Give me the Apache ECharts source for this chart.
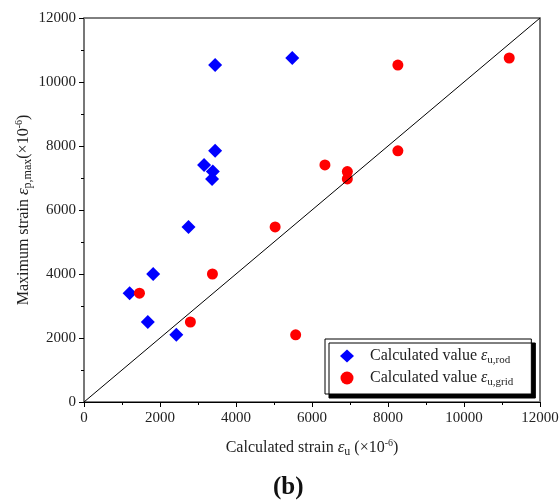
<!DOCTYPE html>
<html lang="en">
<head>
	<meta charset="UTF-8">
	<title>Strain comparison</title>
	<script src="https://cdn.jsdelivr.net/npm/echarts@6/dist/echarts.min.js"></script>
</head>
<body style="margin:0">
	<div id="app" style="width: 560px;height:502px"></div>

	<script>
		// calculated strain (x) vs maximum strain (y), x10^-6
		var rodX = [3450, 5480, 3450, 3160, 3390, 3370, 2750, 1820, 1200, 1680, 2430];
		var rodY = [10530, 10750, 7850, 7410, 7200, 6970, 5470, 4000, 3400, 2500, 2100];
		var gridX = [1460, 2800, 3380, 5030, 6340, 6930, 6930, 8260, 8260, 11190, 5570];
		var gridY = [3400, 2500, 4000, 5470, 7410, 7200, 6970, 7850, 10530, 10750, 2100];
		var refLine = [[0, 0], [12000, 12000]];
		var axisMin = 0, axisMax = 12000, axisStep = 2000;

		function pairs(xs, ys) {
			return xs.map(function (v, i) { return [v, ys[i]]; });
		}

		var font = 'Liberation Serif';
		var rich = {
			t: {fontFamily: font, fontSize: 16, color: '#222', lineHeight: 20, verticalAlign: 'middle'},
			e: {fontFamily: font, fontSize: 17, fontStyle: 'italic', color: '#222', lineHeight: 20, verticalAlign: 'middle'},
			s: {fontFamily: font, fontSize: 12, color: '#222', lineHeight: 12, verticalAlign: 'bottom'},
			sup: {fontFamily: font, fontSize: 10, color: '#222', lineHeight: 10, verticalAlign: 'top'}
		};
		var legendRich = {
			t: {fontFamily: font, fontSize: 16, color: '#222', lineHeight: 20, padding: [0, 0, 0, 11]},
			e: {fontFamily: font, fontSize: 16, fontStyle: 'italic', color: '#222', lineHeight: 20},
			s: {fontFamily: font, fontSize: 11, color: '#222', lineHeight: 11, verticalAlign: 'bottom'}
		};
		var tickFmt = function (v) { return String(v); };

		var myChart = echarts.init(document.getElementById('app'));
		var option = {
			animation: false,
			title: {
				text: '(b)',
				left: 268,
				top: 470,
				textStyle: {fontFamily: font, fontSize: 25, fontWeight: 'bold', color: '#111'}
			},
			grid: {
				left: 84, top: 18, right: 20, bottom: 100,
				outerBoundsMode: 'none',
				containLabel: false,
				show: true, borderColor: '#000', borderWidth: 1
			},
			legend: {
				orient: 'vertical',
				left: 325, top: 339,
				padding: [9, 18, 6, 15],
				itemGap: 4,
				itemWidth: 14, itemHeight: 13,
				backgroundColor: '#fff',
				borderColor: '#000', borderWidth: 1,
				shadowColor: '#000', shadowBlur: 0, shadowOffsetX: 4, shadowOffsetY: 4,
				data: [
					{name: 'rod', icon: 'diamond'},
					{name: 'grid', icon: 'circle'}
				],
				formatter: function (name) {
					return '{t|Calculated value }{e|ε}{s|u,' + name + '}';
				},
				textStyle: {rich: legendRich}
			},
			xAxis: [{
				type: 'value',
				min: axisMin, max: axisMax, interval: axisStep,
				axisLine: {onZero: false, lineStyle: {color: '#000', width: 1}},
				axisTick: {show: true, length: 5, lineStyle: {color: '#000'}},
				minorTick: {show: true, splitNumber: 2, length: 3, lineStyle: {color: '#000'}},
				splitLine: {show: false},
				axisLabel: {fontFamily: font, fontSize: 15, color: '#222', margin: 9, formatter: tickFmt},
				name: '{t|Calculated strain }{e|ε}{s|u}{t| (×10}{sup|-6}{t|)}',
				nameLocation: 'middle',
				nameGap: 36,
				nameMoveOverlap: false,
				nameTextStyle: {rich: rich}
			}],
			yAxis: [{
				type: 'value',
				min: axisMin, max: axisMax, interval: axisStep,
				axisLine: {onZero: false, lineStyle: {color: '#777', width: 2}},
				axisTick: {show: true, length: 5, lineStyle: {color: '#000'}},
				minorTick: {show: true, splitNumber: 2, length: 3, lineStyle: {color: '#000'}},
				splitLine: {show: false},
				axisLabel: {fontFamily: font, fontSize: 15, color: '#222', margin: 8, formatter: tickFmt},
				name: '{t|Maximum strain }{e|ε}{s|p,max}{t|(×10}{sup|-6}{t|)}',
				nameLocation: 'middle',
				nameGap: 50,
				nameMoveOverlap: false,
				nameTextStyle: {rich: rich}
			}, {
				type: 'value',
				position: 'right',
				min: axisMin, max: axisMax, interval: axisStep,
				axisLine: {show: true, onZero: false, lineStyle: {color: '#777', width: 2}},
				axisTick: {show: false},
				axisLabel: {show: false},
				splitLine: {show: false}
			}],
			series: [
				{
					name: 'ref',
					type: 'line',
					data: refLine,
					showSymbol: false,
					symbol: 'none',
					lineStyle: {color: '#000', width: 1},
					silent: true
				},
				{
					name: 'rod',
					type: 'scatter',
					symbol: 'diamond',
					symbolSize: 14,
					itemStyle: {color: '#0000ff', opacity: 1},
					data: pairs(rodX, rodY)
				},
				{
					name: 'grid',
					type: 'scatter',
					symbol: 'circle',
					symbolSize: 11,
					itemStyle: {color: '#ff0000', opacity: 1},
					data: pairs(gridX, gridY)
				}
			]
		};
		myChart.setOption(option);
	</script>
</body>
</html>
